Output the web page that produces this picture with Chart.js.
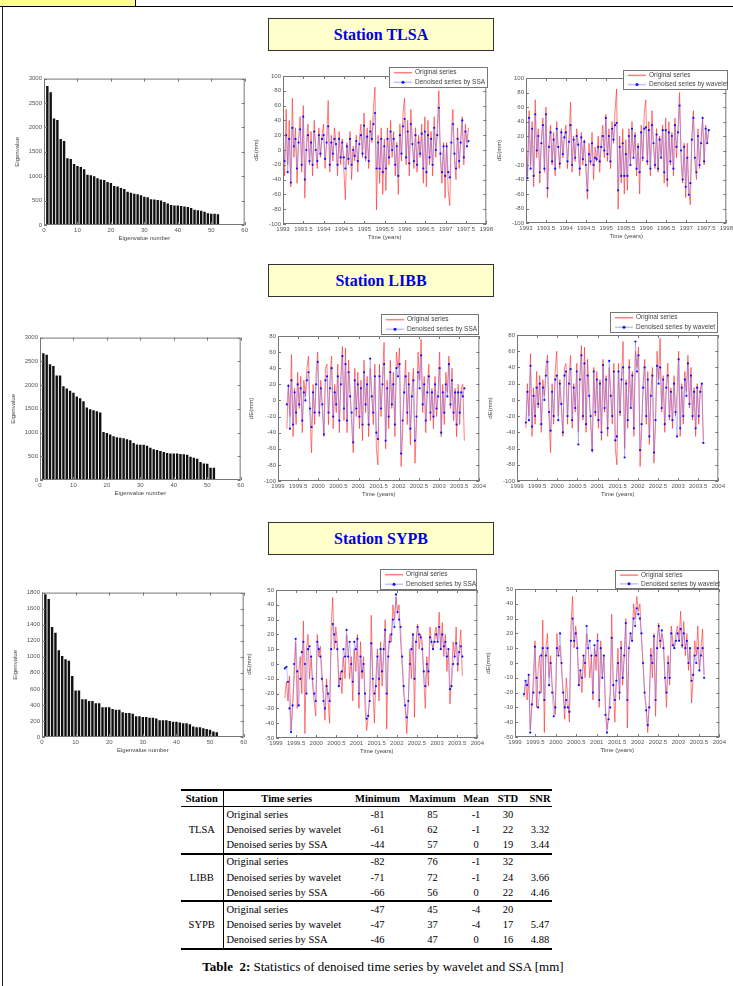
<!DOCTYPE html>
<html>
<head>
<meta charset="utf-8">
<script src="https://cdn.jsdelivr.net/npm/chart.js@4.4.0/dist/chart.umd.min.js"></script>
<style>
  body { margin: 0; width: 733px; height: 986px; position: relative; overflow: hidden; background: #fff;
         font-family: "Liberation Serif", "Times New Roman", serif; }
  #tab { position: absolute; left: 0; top: 0; width: 135px; height: 6px; background: #ffff99; border-right: 1px solid #000; }
  #topline { position: absolute; left: 0; top: 6px; width: 733px; height: 1px; background: #000; }
  #leftline { position: absolute; left: 2px; top: 6px; width: 1px; height: 980px; background: #222; }
  .station { position: absolute; left: 268px; width: 224px; height: 31px; background: #ffffcc; border: 1px solid #333;
             color: #0000ee; font-weight: bold; font-size: 16px; text-align: center; line-height: 31px; }
  canvas { position: absolute; }
  #stats { position: absolute; left: 181px; top: 789px; border-collapse: collapse; table-layout: fixed;
           font-size: 10.5px; color: #000; width: 371px; }
  #stats th, #stats td { padding: 0; height: 15.2px; line-height: 14px; text-align: center; white-space: nowrap; }
  #stats thead tr { border-top: 2px solid #000; border-bottom: 1.5px solid #000; }
  #stats tbody { border-bottom: 2px solid #000; }
  #stats .st { border-right: 1px solid #000; }
  #stats .ts { text-align: left; padding-left: 3px; }
  #stats .snr { padding-left: 4px; }
  #caption { position: absolute; left: 183px; top: 959px; width: 400px; text-align: center; font-size: 13px; }
</style>
</head>
<body>
<div id="tab"></div>
<div id="topline"></div>
<div id="leftline"></div>

<div class="station" style="top:18px">Station TLSA</div>
<div class="station" style="top:264px">Station LIBB</div>
<div class="station" style="top:522px">Station SYPB</div>

<canvas id="tlsaEig"></canvas>
<canvas id="tlsaSsa"></canvas>
<canvas id="tlsaWav"></canvas>
<canvas id="libbEig"></canvas>
<canvas id="libbSsa"></canvas>
<canvas id="libbWav"></canvas>
<canvas id="sypbEig"></canvas>
<canvas id="sypbSsa"></canvas>
<canvas id="sypbWav"></canvas>

<table id="stats">
  <colgroup>
    <col style="width:42px"><col style="width:127px"><col style="width:55px"><col style="width:55px">
    <col style="width:32px"><col style="width:32px"><col style="width:28px">
  </colgroup>
  <thead id="statsHead"></thead>
</table>
<div id="caption"><b>Table&nbsp; 2:</b> Statistics of denoised time series by wavelet and SSA [mm]</div>

<script>
// eigenvalues of the SSA decomposition
const tlsaEigen = [2850, 2720, 2180, 2150, 1760, 1720, 1370, 1350, 1250, 1210, 1190, 1140, 1030, 1020, 1000, 960,
  930, 920, 880, 860, 800, 790, 760, 740, 680, 660, 640, 630, 610, 580, 570, 530, 520, 510, 500, 470, 440, 410,
  400, 400, 390, 380, 370, 350, 310, 300, 290, 270, 240, 230, 230, 220];
const libbEigen = [2670, 2640, 2440, 2400, 2200, 2200, 1975, 1930, 1880, 1840, 1760, 1720, 1660, 1530, 1490, 1470,
  1450, 1420, 1010, 990, 960, 920, 900, 890, 880, 860, 840, 780, 750, 740, 740, 720, 680, 650, 630, 610, 590, 570,
  560, 560, 560, 550, 540, 530, 490, 470, 450, 380, 350, 340, 260, 260];
const sypbEigen = [1780, 1720, 1370, 1300, 1080, 1010, 970, 950, 760, 580, 580, 470, 470, 450, 450, 420, 420, 370,
  370, 370, 350, 340, 340, 310, 300, 300, 290, 260, 260, 250, 250, 240, 240, 230, 210, 210, 210, 200, 190, 190, 180,
  170, 170, 160, 130, 120, 120, 110, 100, 90, 70, 60];

// time series (mm), one sample every two weeks
const sampleStep = 14 / 365.25;
const tlsaStart = 1993.0;
const libbStart = 1999.22;
const sypbStart = 1999.22;

const tlsaOriginal = [20, -35, 55, -20, 40, -50, 70, -10, 30, -45, 15, 45, -30,
  60, -65, 10, 35, -20, 25, -35, 40, 5, -25, 30, -10, 20,
  35, -25, 15, 67, -30, 20, -15, 30, 10, -35, 25, -20, 15,
  -25, -67, 10, -20, 25, -40, 5, -15, 20, -30, 15, 35, -10,
  50, -15, 30, -25, 40, 10, 55, 85, -81, 20, -45, 30, -60,
  15, -55, 30, -20, 40, -10, 25, -35, 10, -60, 35, -15, 50,
  70, -20, 40, -35, 55, 10, -25, 30, -30, 20, -10, 35, -45,
  45, -50, 40, -20, 25, -35, 45, -10, 30, 80, -15, -45, 10,
  -65, 10, -55, -75, 20, 55, -15, -40, 30, -25, 15, 45, -20, 35, 10, 30];
const tlsaSSA = [22, -15, 20, -30, 15, -44, 30, 5, 15, -25, 10, 28, -20,
  45, -40, 0, 20, -15, 10, -20, 25, 0, -15, 20, -5, 15,
  20, -12, 10, 32, -20, 10, -5, 15, 8, -20, 15, -10, 10,
  -10, -25, 5, -12, 15, -20, 0, -8, 12, -15, 8, 20, -5,
  33, -10, 18, -15, 25, 15, 35, 50, -25, 10, -25, 15, -30,
  5, -25, 15, -10, 25, 0, 15, -20, 5, -35, 20, -5, 32,
  42, -10, 25, -18, 35, 8, -15, 20, -20, 10, -5, 22, -25,
  25, -30, 20, -10, 15, -20, 30, 0, 20, 57, -5, -30, 5,
  -35, 5, -30, -37, 10, 35, -5, -25, 15, -15, 10, 40, -10, 25, 5, 12];
const tlsaWavelet = [15, -38, 45, -25, 30, -35, 50, 0, 20, -30, 10, 35, -25,
  50, -52, 5, 25, -15, 15, -25, 30, 5, -18, 25, -5, 18,
  25, -15, 12, 35, -20, 15, -10, 20, 8, -25, 18, -12, 12,
  -20, -55, -5, -15, 10, -20, -10, -12, 5, -15, 5, 20, 0,
  45, -5, 20, -15, 30, 15, 35, 38, -55, 5, -35, 10, -35,
  -5, -35, 20, -20, 30, -10, 20, -25, 5, -30, 25, -10, 30,
  32, -15, 28, -25, 35, 10, -20, 22, -25, 15, -10, 28, -30,
  28, -40, 25, -15, 20, -25, 35, 5, 25, 62, 0, -40, 5,
  -50, -10, -61, -45, 15, 45, -10, -30, 20, -20, 10, 45, -15, 30, 10, 28];

const libbOriginal = [-35, 20, -20, 57, -45, 15, -30, 35,
  -10, 30, -40, 25, 5, 40, 55, -20, -65, 20, -30, 35, 60,
  -20, 25, -10, -45, 40, 45, -30, 30, 55, -35, 20, -15, 45,
  -40, 30, 67, -25, 65, -40, 50, 10, -30, -65, 40, -20, 35,
  -35, 25, -50, 50, -15, 30, -45, 40, 10, -30, 45, -60, -80,
  45, -20, 30, 72, -60, 25, -35, 50, -10, 35, -45, 60, 40,
  65, -82, -40, 20, 50, -30, 35, -55, 10, 40, -78, -30, 60,
  25, 76, -15, 30, -40, 20, 45, -25, 15, -35, 30, -20, 10,
  60, -45, 20, -30, 35, 10, 55, -10, 40, -25, 15, -45, 20,
  -30, 15, 20, -50];
const libbSSA = [-5, 18, -35, 25, -30, 10, -15, 20,
  -5, 15, -25, 10, 0, 25, 35, -10, -33, 10, -15, 20, 48,
  -15, 15, -5, -42, 25, 30, -15, 15, 40, -20, 10, -5, 30,
  -25, 20, 55, -10, 45, -25, 35, 5, -15, -52, 25, -10, 20,
  -20, 15, -30, 35, -5, 20, -30, 52, 5, -15, 30, -40, -48,
  30, -10, 20, 45, -50, 15, -20, 35, -5, 20, -30, 40, 30,
  45, -66, -25, 10, 30, -15, 20, -35, 5, 25, -50, -20, 35,
  15, 56, -5, 20, -25, 10, 30, -15, 10, -20, 20, -10, 5,
  40, -40, 10, -15, 20, 5, 45, -5, 25, -15, 10, -30, 10,
  -15, 10, 5, 15];
const libbWavelet = [-28, 10, -25, 42, -33, 5, -20, 15,
  -5, 20, -30, 15, 0, 30, 47, -15, -38, 10, -20, 25, 30,
  -25, 20, -5, -40, 30, 35, -20, 20, 38, -25, 15, -10, 35,
  -55, 25, 55, -20, 45, -30, 30, 5, -20, -62, 35, -15, 25,
  -25, 20, -40, 43, -10, 25, -35, 48, 5, -20, 35, -50, -45,
  35, -15, 25, 40, -71, 20, -25, 40, -10, 30, -35, 72, 35,
  55, -62, -30, 15, 40, -20, 25, -45, 5, 30, -65, -25, 42,
  20, 40, -10, 25, -30, 15, 30, -20, 10, -25, 20, -15, -45,
  50, -35, 15, -20, 25, 5, 45, -5, 30, -20, 10, -35, 15,
  -20, 10, 20, -53];

const sypbOriginal = [-23, -12, -25, -8, -45, -30, -10, 15,
  -30, -5, 5, -20, 29, -47, 10, 20, -10, 5, -15, -25, -35,
  20, 5, 12, -5, -20, -38, -10, -25, -40, 25, 45, 10, 25,
  15, -15, -5, -20, 5, -10, 20, 10, -10, 5, -25, 10, -5,
  20, -30, 15, -10, 5, -30, -45, -35, -20, 33, -15, -40, -10,
  10, -25, 15, -15, 5, 30, -44, 10, 20, 15, 40, 30, 45,
  35, 40, 15, 0, -20, -30, -47, -25, 10, -10, 20, -36, 15,
  27, 10, 20, 15, -10, -30, 5, -15, 25, 15, 10, 20, 25,
  15, 35, 10, 28, 5, 20, -5, 10, -27, -10, 15, 5, 25,
  -5, 10, 23, -8];
const sypbSSA = [-3, -2, -12, -30, -46, -28, 0, 17,
  -5, -28, -10, 8, 15, 0, -20, 10, 12, 5, -10, -20, -25,
  15, 10, 5, -10, -25, -30, -15, -20, -25, 10, 27, 20, 15,
  10, -15, -10, -5, 10, 5, 23, 5, 15, 0, -12, 15, 10,
  17, -20, 5, -5, 0, -20, -37, -35, -25, 14, -10, -20, -15,
  5, -10, 10, -5, 10, 23, -20, 5, 15, 20, 30, 25, 47,
  35, 30, 25, 5, -15, -28, -36, -25, 0, 10, 20, -10, 15,
  25, 20, 18, 10, -5, -15, 0, -5, 18, 15, 10, 15, 20,
  15, 25, 10, 20, 12, 15, 5, 10, -17, -15, 0, 5, 14,
  0, 8, 12, 5];
const sypbWavelet = [-21, -12, -15, -8, -47, -28, -20, 11,
  -10, -30, -20, 5, 10, -25, 5, 10, -15, 0, -20, -36, -30,
  10, 5, 20, 0, -20, -30, -25, -30, -33, 15, 30, 15, 20,
  10, -15, -5, -10, 5, 0, 25, 10, 15, 5, -20, 12, 5,
  15, -25, 10, -10, 5, -35, -47, -38, -30, 17, -15, -25, -12,
  0, -20, 10, -10, 5, 27, -25, 10, 20, 15, 30, 25, 37,
  33, 30, 20, 0, -20, -32, -42, -30, 5, 0, 18, -25, 10,
  25, 15, 22, 10, -10, -20, 0, -10, 20, 12, 10, 15, 20,
  15, 23, 12, 20, 10, 15, 0, 10, -12, -8, 5, 0, 10,
  -5, 5, 10, -10];

// table 2
const statHeaders = ['Station', 'Time series', 'Minimum', 'Maximum', 'Mean', 'STD', 'SNR'];
const statStations = ['TLSA', 'LIBB', 'SYPB'];
const statSeries = ['Original series', 'Denoised series by wavelet', 'Denoised series by SSA'];
const statMin = [[-81, -61, -44], [-82, -71, -66], [-47, -47, -46]];
const statMax = [[85, 62, 57], [76, 72, 56], [45, 37, 47]];
const statMean = [[-1, -1, 0], [-1, -1, 0], [-4, -4, 0]];
const statStd = [[30, 22, 19], [32, 24, 22], [20, 17, 16]];
const statSnr = [['', '3.32', '3.44'], ['', '3.66', '4.46'], ['', '5.47', '4.88']];

const AXIS_W = 30, AXIS_H = 17;
const tickFont = { family: 'Liberation Sans', size: 6 };
const tickColor = '#555';

const matlabBox = {
  id: 'matlabBox',
  afterDatasetsDraw(chart) {
    const { ctx, chartArea: a, scales: { x, y } } = chart;
    ctx.save();
    ctx.strokeStyle = '#777';
    ctx.lineWidth = 1;
    ctx.strokeRect(a.left + 0.5, a.top + 0.5, a.width - 1, a.height - 1);
    ctx.beginPath();
    x.ticks.forEach(t => {
      const px = Math.round(x.getPixelForValue(t.value)) + 0.5;
      ctx.moveTo(px, a.bottom); ctx.lineTo(px, a.bottom - 3);
      ctx.moveTo(px, a.top); ctx.lineTo(px, a.top + 3);
    });
    y.ticks.forEach(t => {
      const py = Math.round(y.getPixelForValue(t.value)) + 0.5;
      ctx.moveTo(a.left, py); ctx.lineTo(a.left + 3, py);
      ctx.moveTo(a.right, py); ctx.lineTo(a.right - 3, py);
    });
    ctx.stroke();
    ctx.restore();
  }
};

const boxLegend = {
  id: 'boxLegend',
  afterDraw(chart, args, opts) {
    if (!opts.w) return;
    const { ctx, chartArea: a } = chart;
    const x = Math.round(a.right + opts.dx - opts.w), y = Math.round(a.top + opts.dy);
    ctx.save();
    ctx.fillStyle = '#fff';
    ctx.fillRect(x, y, opts.w, opts.h);
    ctx.strokeStyle = '#777';
    ctx.lineWidth = 1;
    ctx.strokeRect(x + 0.5, y + 0.5, opts.w - 1, opts.h - 1);
    ctx.font = '6.5px "Liberation Sans"';
    ctx.textBaseline = 'middle';
    chart.data.datasets.forEach((ds, i) => {
      const cy = y + opts.h * (0.27 + i * 0.46);
      ctx.strokeStyle = ds.borderColor;
      ctx.lineWidth = 1.5;
      ctx.beginPath(); ctx.moveTo(x + 5, cy); ctx.lineTo(x + 23, cy); ctx.stroke();
      if (ds.pointRadius) {
        ctx.fillStyle = ds.pointBackgroundColor;
        ctx.beginPath(); ctx.arc(x + 14, cy, 1.5, 0, Math.PI * 2); ctx.fill();
      }
      ctx.fillStyle = '#444';
      ctx.fillText(ds.label, x + 26, cy);
    });
    ctx.restore();
  }
};

function place(id, left, top, w, h, padTop, padRight) {
  const c = document.getElementById(id);
  c.width = w + AXIS_W + padRight;
  c.height = h + padTop + AXIS_H;
  c.style.left = (left - AXIS_W) + 'px';
  c.style.top = (top - padTop) + 'px';
  return c;
}

function axis(min, max, step, title, isX) {
  return {
    type: 'linear', min: min, max: max, offset: false,
    ticks: { stepSize: step, autoSkip: false, maxRotation: 0, padding: 2, font: tickFont, color: tickColor,
             callback: v => String(v) },
    grid: { display: false, drawTicks: false }, border: { display: false },
    title: { display: true, text: title, padding: 0, font: { family: 'Liberation Sans', size: 6 }, color: '#444' },
    afterFit: s => { if (isX) s.height = AXIS_H; else s.width = AXIS_W; }
  };
}

function eigenChart(id, rect, values, yMax, yStep) {
  const c = place(id, rect[0], rect[1], rect[2], rect[3], 4, 4);
  new Chart(c, {
    type: 'bar',
    data: { datasets: [{ data: values.map((v, i) => ({ x: i + 1, y: v })), backgroundColor: '#111',
                         barPercentage: 0.72, categoryPercentage: 1 }] },
    options: {
      responsive: false, animation: false, layout: { padding: { top: 4, right: 4, left: 0, bottom: 0 } },
      plugins: { legend: { display: false }, tooltip: { enabled: false } },
      scales: { x: axis(0, 60, 10, 'Eigenvalue number', true), y: axis(0, yMax, yStep, 'Eigenvalue', false) }
    },
    plugins: [matlabBox]
  });
}

function seriesChart(id, rect, start, original, denoised, method, xMin, yMin, yMax, yStep, legendBox) {
  const c = place(id, rect[0], rect[1], rect[2], rect[3], 26, 8);
  const time = original.map((_, i) => start + i * sampleStep);
  new Chart(c, {
    type: 'line',
    data: {
      datasets: [
        { label: 'Original series', data: original.map((v, i) => ({ x: time[i], y: v })),
          borderColor: 'rgba(255,40,40,0.6)', borderWidth: 1, pointRadius: 0, order: 1 },
        { label: 'Denoised series by ' + method, data: denoised.map((v, i) => ({ x: time[i], y: v })),
          borderColor: 'rgba(120,120,255,0.45)', borderWidth: 1, pointRadius: 1.1, pointBorderWidth: 0,
          pointBackgroundColor: '#1010ff', order: 0 }
      ]
    },
    options: {
      responsive: false, animation: false, layout: { padding: { top: 26, right: 8, left: 0, bottom: 0 } },
      plugins: { legend: { display: false }, tooltip: { enabled: false }, boxLegend: legendBox },
      scales: { x: axis(xMin, xMin + 5, 0.5, 'Time (years)', true), y: axis(yMin, yMax, yStep, 'dE(mm)', false) }
    },
    plugins: [matlabBox, boxLegend]
  });
}

eigenChart('tlsaEig', [44, 77, 202, 148], tlsaEigen, 3000, 500);
seriesChart('tlsaSsa', [283, 76, 204, 148], tlsaStart, tlsaOriginal, tlsaSSA, 'SSA', 1993, -100, 100, 20,
  { dx: 2, dy: -9, w: 99, h: 21 });
seriesChart('tlsaWav', [526, 78, 201, 145], tlsaStart, tlsaOriginal, tlsaWavelet, 'wavelet', 1993, -100, 100, 20,
  { dx: 2, dy: -8, w: 105, h: 20 });

eigenChart('libbEig', [40, 336, 202, 144], libbEigen, 3000, 500);
seriesChart('libbSsa', [278, 336, 202, 145], libbStart, libbOriginal, libbSSA, 'SSA', 1999, -100, 80, 20,
  { dx: 0, dy: -22, w: 98, h: 21 });
seriesChart('libbWav', [517, 335, 202, 146], libbStart, libbOriginal, libbWavelet, 'wavelet', 1999, -100, 80, 20,
  { dx: 0, dy: -23, w: 108, h: 21 });

eigenChart('sypbEig', [42, 591, 203, 146], sypbEigen, 1800, 200);
seriesChart('sypbSsa', [276, 590, 202, 148], sypbStart, sypbOriginal, sypbSSA, 'SSA', 1999, -50, 50, 10,
  { dx: 0, dy: -21, w: 97, h: 21 });
seriesChart('sypbWav', [515, 589, 205, 148], sypbStart, sypbOriginal, sypbWavelet, 'wavelet', 1999, -50, 50, 10,
  { dx: 0, dy: -19, w: 104, h: 19 });

// build the statistics table
const table = document.getElementById('stats');
const head = document.getElementById('statsHead');
const hr = document.createElement('tr');
statHeaders.forEach((h, i) => {
  const th = document.createElement('th');
  th.textContent = h;
  if (i === 0) th.className = 'st';
  if (i === 6) th.className = 'snr';
  hr.appendChild(th);
});
head.appendChild(hr);
statStations.forEach((st, s) => {
  const body = document.createElement('tbody');
  statSeries.forEach((name, r) => {
    const tr = document.createElement('tr');
    if (r === 0) {
      const td = document.createElement('td');
      td.rowSpan = 3; td.className = 'st'; td.textContent = st;
      tr.appendChild(td);
    }
    const cells = [name, statMin[s][r], statMax[s][r], statMean[s][r], statStd[s][r], statSnr[s][r]];
    cells.forEach((v, k) => {
      const td = document.createElement('td');
      td.textContent = v;
      if (k === 0) td.className = 'ts';
      if (k === 5) td.className = 'snr';
      tr.appendChild(td);
    });
    body.appendChild(tr);
  });
  table.appendChild(body);
});
</script>
</body>
</html>
